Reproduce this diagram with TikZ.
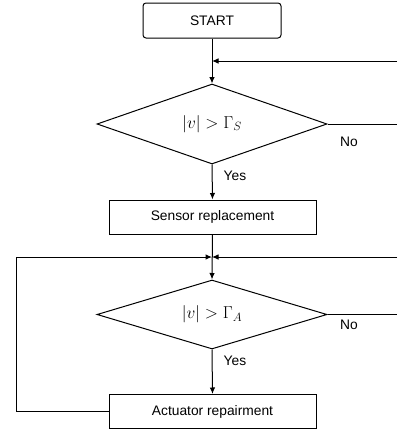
\documentclass[tikz,border=0pt]{standalone}
\usepackage{fontspec}
\setmainfont{Liberation Sans}
\usetikzlibrary{shapes.geometric,arrows.meta}
\begin{document}
\begin{tikzpicture}[x=1pt,y=-1pt,
  line width=1pt,
  every node/.style={font=\fontsize{13.8}{16}\selectfont},
  arr/.style={-{Latex[length=6.5pt,width=5.5pt]}},
  boxn/.style={draw,minimum width=207pt,minimum height=34pt,inner sep=0pt},
  lbl/.style={inner sep=0pt}]
\useasboundingbox (0,0) rectangle (397,431);
\node[draw,rounded corners=3pt,minimum width=138pt,minimum height=35pt,inner sep=0pt] (start) at (212,20.5) {START};
\node[draw,shape=diamond,aspect=2.875,minimum width=230pt,minimum height=80pt,inner sep=0pt] (d1) at (212,124) {};
\node at (212,124) {\fontsize{16.5}{19}\selectfont$|v|>\Gamma_S$};
\node[boxn] (sens) at (212.5,217) {Sensor replacement};
\node[draw,shape=diamond,aspect=3.333,minimum width=230pt,minimum height=69pt,inner sep=0pt] (d2) at (212,314.5) {};
\node at (212,314.5) {\fontsize{16.5}{19}\selectfont$|v|>\Gamma_A$};
\node[boxn] (act) at (212.5,411.5) {Actuator repairment};
\coordinate (m1) at (212,61);
\coordinate (r1) at (397,61);
\coordinate (m2) at (212,257);
\coordinate (r2) at (397,257);
\coordinate (l2) at (16,257);
\coordinate (e1) at (397,124);
\coordinate (e2) at (397,314.5);
\coordinate (lc) at (16,411.5);
\draw[arr] (start.south) -- (d1.north);
\draw[arr] (r1) -- (m1);
\draw (d1.east) -- (e1);
\node[lbl] at (349,142) {No};
\node[lbl] at (235,176) {Yes};
\draw[arr] (d1.south) -- (sens.north);
\draw[arr] (sens.south) -- (d2.north);
\draw[arr] (r2) -- (m2);
\draw[arr] (act.west) -- (lc) -- (l2) -- (m2);
\draw (d2.east) -- (e2);
\node[lbl] at (349,325) {No};
\node[lbl] at (235,361) {Yes};
\draw[arr] (d2.south) -- (act.north);
\end{tikzpicture}
\end{document}
